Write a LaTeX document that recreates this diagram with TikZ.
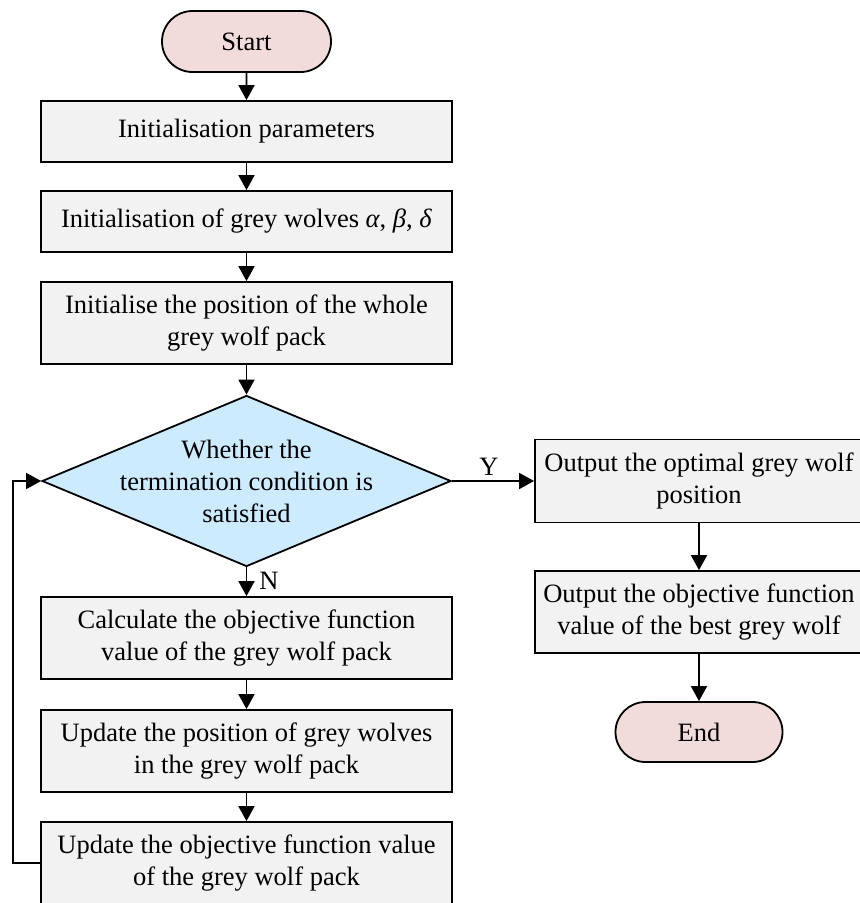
\documentclass[tikz,border=0pt]{standalone}
\usepackage{fontspec}
\setmainfont{Liberation Serif}
\usetikzlibrary{arrows.meta,shapes.geometric,shapes.misc,positioning}
\definecolor{boxfill}{HTML}{F2F2F2}
\definecolor{termfill}{HTML}{F2DCDB}
\definecolor{decfill}{HTML}{CCEBFF}
\tikzset{
  every node/.style={font=\fontsize{26.5}{32}\selectfont},
  procbox/.style={draw, line width=1.8pt, fill=boxfill, rectangle, inner sep=0pt, align=center},
  termbox/.style={draw, line width=1.8pt, fill=termfill, rounded rectangle, inner sep=0pt},
  decbox/.style={draw, line width=1.8pt, fill=decfill, diamond, inner sep=0pt},
  conn/.style={line width=1.8pt, -{Triangle[length=15pt,width=16pt]}},
}
\begin{document}
\begin{tikzpicture}[x=1pt,y=-1pt]
\useasboundingbox (0,0) rectangle (860,903);
\node[termbox, minimum width=169pt, minimum height=61pt] (start) at (246.5,41.5) {Start};
\node[procbox, minimum width=411pt, minimum height=61pt] (b1) at (246.5,131.5) {Initialisation parameters};
\node[procbox, minimum width=411pt, minimum height=61pt] (b2) at (246.5,221.5) {Initialisation of grey wolves \textit{α}, \textit{β}, \textit{δ}};
\node[procbox, minimum width=411pt, minimum height=82pt] (b3) at (246.5,323) {Initialise the position of the whole\\grey wolf pack};
\node[decbox, minimum width=409pt, minimum height=171pt] (dec) at (246.5,481) {};
\node[align=center, inner sep=0pt] (dectext) at (246.5,481) {Whether the\\termination condition is\\satisfied};
\node[procbox, minimum width=411pt, minimum height=82pt] (b4) at (246.5,638) {Calculate the objective function\\value of the grey wolf pack};
\node[procbox, minimum width=411pt, minimum height=82pt] (b5) at (246.5,751) {Update the position of grey wolves\\in the grey wolf pack};
\node[procbox, minimum width=411pt, minimum height=82pt] (b6) at (246.5,863) {Update the objective function value\\of the grey wolf pack};
\node[procbox, minimum width=328pt, minimum height=83pt] (r1) at (699,481) {Output the optimal grey wolf\\position};
\node[procbox, minimum width=328pt, minimum height=82pt] (r2) at (699,612) {Output the objective function\\value of the best grey wolf};
\node[termbox, minimum width=167pt, minimum height=60pt] (end) at (699,732) {End};
\coordinate (loopb) at (13,863);
\coordinate (loopt) at (13,481);
\draw[conn] (start) -- (b1);
\draw[conn] (b1) -- (b2);
\draw[conn] (b2) -- (b3);
\draw[conn] (b3) -- (dec);
\draw[conn] (dec) -- node[right, inner sep=0pt, xshift=12pt, pos=0.45] (nlab) {N} (b4);
\draw[conn] (b4) -- (b5);
\draw[conn] (b5) -- (b6);
\draw[conn] (dec.east) -- node[above, pos=0.45, inner sep=5pt] (ylab) {Y} (r1.west);
\draw[conn] (r1) -- (r2);
\draw[conn] (r2) -- (end);
\draw[conn] (b6.west) -- (loopb) -- (loopt) -- (dec.west);
\end{tikzpicture}
\end{document}
